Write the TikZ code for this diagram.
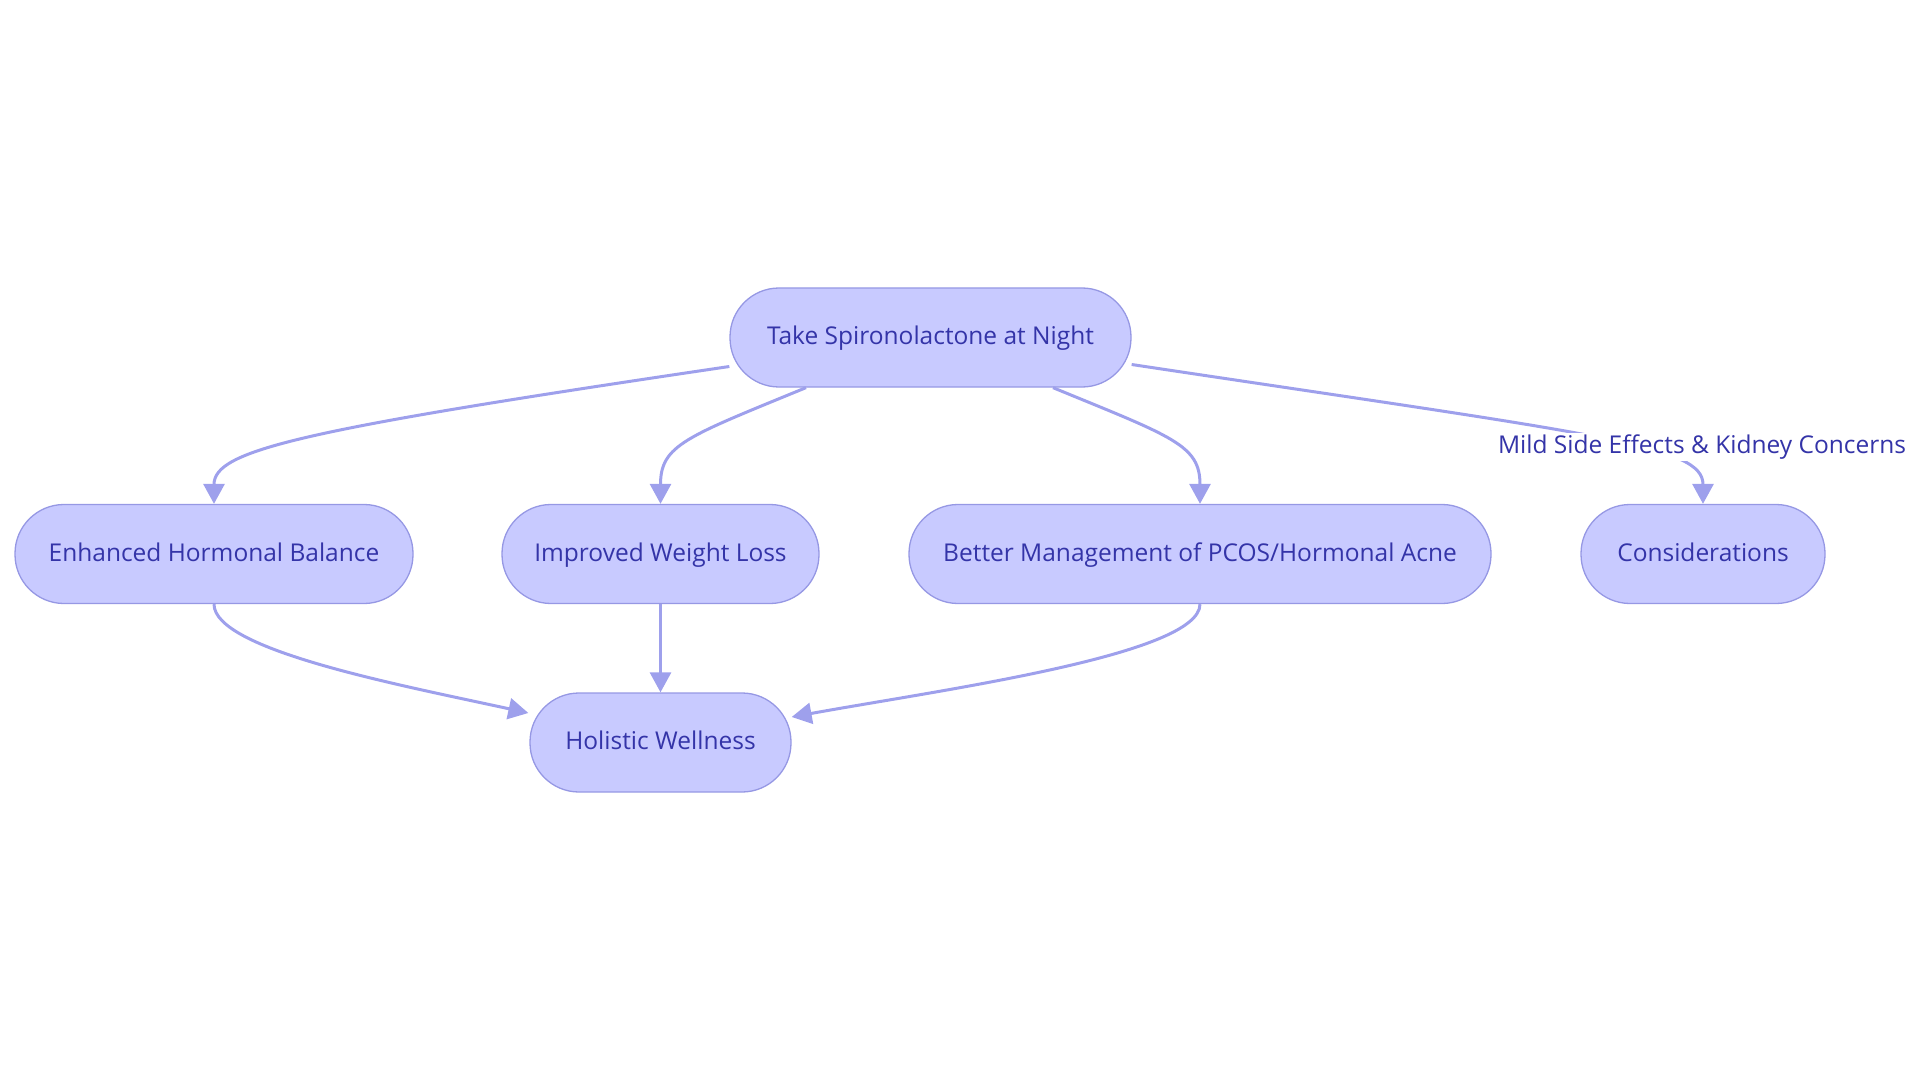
\documentclass[tikz,border=0pt]{standalone}
\usepackage{fontspec}
\setmainfont{Open Sans}
\usetikzlibrary{arrows.meta,calc}
\definecolor{nodefill}{RGB}{200,202,255}
\definecolor{nodeline}{RGB}{150,152,228}
\definecolor{edgecol}{RGB}{158,160,236}
\definecolor{txt}{RGB}{52,52,168}
\tikzset{
  box/.style={draw=nodeline, line width=1.3pt, fill=nodefill, rounded corners=49pt,
    minimum height=99pt, inner sep=0pt, text=txt, text height=18pt, text depth=4pt,
    font=\fontsize{24.5}{29}\selectfont},
  conn/.style={draw=edgecol, line width=3pt, -{Triangle[length=20pt,width=21pt]}},
  lbl/.style={fill=white, text=txt, inner sep=2pt, text height=18pt, text depth=6pt,
    font=\fontsize{24.5}{29}\selectfont}
}
\begin{document}
\begin{tikzpicture}[x=1pt,y=-1pt]
\useasboundingbox (0,0) rectangle (1920,1083);
\node[box, minimum width=401pt] (top) at (930.5,337.5) {Take Spironolactone at Night};
\node[box, minimum width=398pt] (ehb) at (214,554) {Enhanced Hormonal Balance};
\node[box, minimum width=317pt] (iwl) at (660.5,554) {Improved Weight Loss};
\node[box, minimum width=582pt] (bmp) at (1200,554) {Better Management of PCOS/Hormonal Acne};
\node[box, minimum width=244pt] (con) at (1703,554) {Considerations};
\node[box, minimum width=261pt] (hw) at (660.5,742.5) {Holistic Wellness};
\coordinate (s1) at ($(top.west)+(0,29)$);
\coordinate (s2) at ($(top.south)+(-124.5,0)$);
\coordinate (s3) at ($(top.south)+(122.5,0)$);
\coordinate (s4) at ($(top.east)+(0,27)$);
\coordinate (e5) at ($(hw.west)+(-1,-29.5)$);
\coordinate (e7) at ($(hw.east)+(0,-25.5)$);
\draw[conn] (s1) .. controls (300,430) and (214,450) .. (ehb.north);
\draw[conn] (s2) .. controls (686,437) and (660.5,445) .. (iwl.north);
\draw[conn] (s3) .. controls (1173,437) and (1200,445) .. (bmp.north);
\draw[conn] (s4) .. controls (1600,435) and (1703,445) .. (con.north);
\node[lbl] (l4) at (1702,447) {Mild Side Effects \& Kidney Concerns};
\draw[conn] (ehb.south) .. controls (214,650) and (400,685) .. (e5);
\draw[conn] (iwl.south) -- (hw.north);
\draw[conn] (bmp.south) .. controls (1200,655) and (940,690) .. (e7);
\end{tikzpicture}
\end{document}
